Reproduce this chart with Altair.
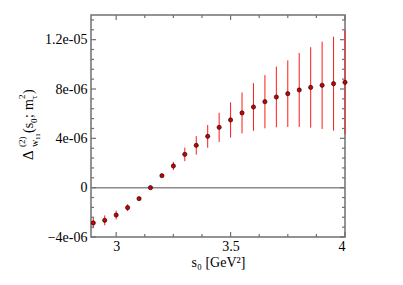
import altair as alt
import pandas as pd

# data (values in units of 1e-6)
s0 = [2.90, 2.95, 3.00, 3.05, 3.10, 3.15, 3.20, 3.25, 3.30, 3.35, 3.40, 3.45,
      3.50, 3.55, 3.60, 3.65, 3.70, 3.75, 3.80, 3.85, 3.90, 3.95, 4.00]
delta = [-2.86, -2.65, -2.22, -1.62, -0.89, 0.00, 0.97, 1.76, 2.70, 3.43, 4.16, 4.89,
         5.49, 6.06, 6.54, 6.97, 7.35, 7.62, 7.92, 8.13, 8.30, 8.43, 8.54]
err = [0.43, 0.40, 0.35, 0.28, 0.12, 0.03, 0.12, 0.33, 0.55, 0.75, 0.92, 1.18,
       1.43, 1.66, 1.93, 2.16, 2.46, 2.70, 3.00, 3.26, 3.54, 3.81, 4.20]

x_major = [3.0, 3.5, 4.0]
x_minor = [3.125, 3.25, 3.375, 3.625, 3.75, 3.875]
y_major = [-4e-6, 0.0, 4e-6, 8e-6, 1.2e-5]
y_minor = [-3.2e-6, -2.4e-6, -1.6e-6, -0.8e-6, 0.8e-6, 1.6e-6, 2.4e-6, 3.2e-6,
           4.8e-6, 5.6e-6, 6.4e-6, 7.2e-6, 8.8e-6, 9.6e-6, 1.04e-5, 1.12e-5,
           1.28e-5, 1.36e-5]

W, H = 254, 222
XDOM = [2.89, 4.0]
YDOM = [-4e-6, 1.4e-5]
FONT = "Liberation Serif, Times New Roman, serif"
AX = "#707070"

df = pd.DataFrame({
    "s0": s0,
    "d": [v * 1e-6 for v in delta],
    "lo": [(v - e) * 1e-6 for v, e in zip(delta, err)],
    "hi": [(v + e) * 1e-6 for v, e in zip(delta, err)],
})

xs = alt.Scale(domain=XDOM, nice=False, zero=False)
ys = alt.Scale(domain=YDOM, nice=False, zero=False)

lab_expr = ("datum.value == 0 ? '0' : replace(format(datum.value, '.2~e'), 'e-', 'e-0')")

base = alt.Chart(df)

xaxis = alt.Axis(values=x_major, ticks=False, domain=False, grid=False,
                 labelFont=FONT, labelFontSize=14, labelColor="black", labelPadding=2,
                 title="s₀ [GeV²]", titleFont=FONT, titleFontSize=14,
                 titleFontWeight="normal", titleColor="black", titlePadding=2,
                 labelExpr="format(datum.value, '~g')")
yaxis = alt.Axis(values=y_major, ticks=False, domain=False, grid=False,
                 labelFont=FONT, labelFontSize=14, labelColor="black", labelPadding=4,
                 labelExpr=lab_expr, title=None)

zero = alt.Chart(pd.DataFrame({"z": [0.0]})).mark_rule(color="#8c8c8c", strokeWidth=1.5).encode(
    y=alt.Y("z:Q", scale=ys, axis=yaxis))

bars = base.mark_rule(color="#ff1a1a", strokeWidth=1.0, clip=False).encode(
    x=alt.X("s0:Q", scale=xs, axis=xaxis),
    y=alt.Y("lo:Q", scale=ys),
    y2="hi:Q")

pts = base.mark_point(filled=True, shape="circle", size=18, fill="#cc0000",
                      stroke="black", strokeWidth=0.6, opacity=1, clip=False).encode(
    x=alt.X("s0:Q", scale=xs),
    y=alt.Y("d:Q", scale=ys))

xt = pd.DataFrame({"v": x_major + x_minor,
                   "L": [5] * len(x_major) + [3] * len(x_minor)})
yt = pd.DataFrame({"v": y_major + y_minor,
                   "L": [5] * len(y_major) + [3] * len(y_minor)})

tick_layers = []
for L in (5, 3):
    xd = xt[xt.L == L]
    yd = yt[yt.L == L]
    tick_layers.append(alt.Chart(xd).mark_rule(color=AX, strokeWidth=1.2).encode(
        x=alt.X("v:Q", scale=xs), y=alt.value(0), y2=alt.value(L)))
    tick_layers.append(alt.Chart(xd).mark_rule(color=AX, strokeWidth=1.2).encode(
        x=alt.X("v:Q", scale=xs), y=alt.value(H), y2=alt.value(H - L)))
    tick_layers.append(alt.Chart(yd).mark_rule(color=AX, strokeWidth=1.2).encode(
        y=alt.Y("v:Q", scale=ys), x=alt.value(0), x2=alt.value(L)))
    tick_layers.append(alt.Chart(yd).mark_rule(color=AX, strokeWidth=1.2).encode(
        y=alt.Y("v:Q", scale=ys), x=alt.value(W), x2=alt.value(W - L)))

# rotated y-axis title pieces: text, font size, baseline x, start y
title_txt = ["Δ", "(2)", "w", "11", "(s", "0", ";", "m", "τ", "2", ")"]
title_fs = [15, 9, 10, 7, 14, 9, 14, 14, 9, 9, 14]
title_x = [-58, -66, -53, -51, -58, -54, -58, -58, -54, -66, -58]
title_y = [145, 132, 132, 125, 118, 108, 103, 95, 84, 84, 79]

ttl_layers = []
for t, fs, tx, ty in zip(title_txt, title_fs, title_x, title_y):
    ttl_layers.append(alt.Chart(pd.DataFrame({"t": [t]})).mark_text(
        angle=270, align="left", baseline="alphabetic", font=FONT, fontSize=fs,
        color="black").encode(text="t:N", x=alt.value(tx), y=alt.value(ty)))

chart = alt.layer(zero, bars, pts, *tick_layers, *ttl_layers).properties(
    width=W, height=H,
    autosize=alt.AutoSizeParams(type="none"),
    padding={"left": 83, "top": 7, "right": 50, "bottom": 40},
).configure_view(stroke=AX, strokeWidth=1.5)

chart.save("out.html", embed_options={"renderer": "svg", "actions": False})
